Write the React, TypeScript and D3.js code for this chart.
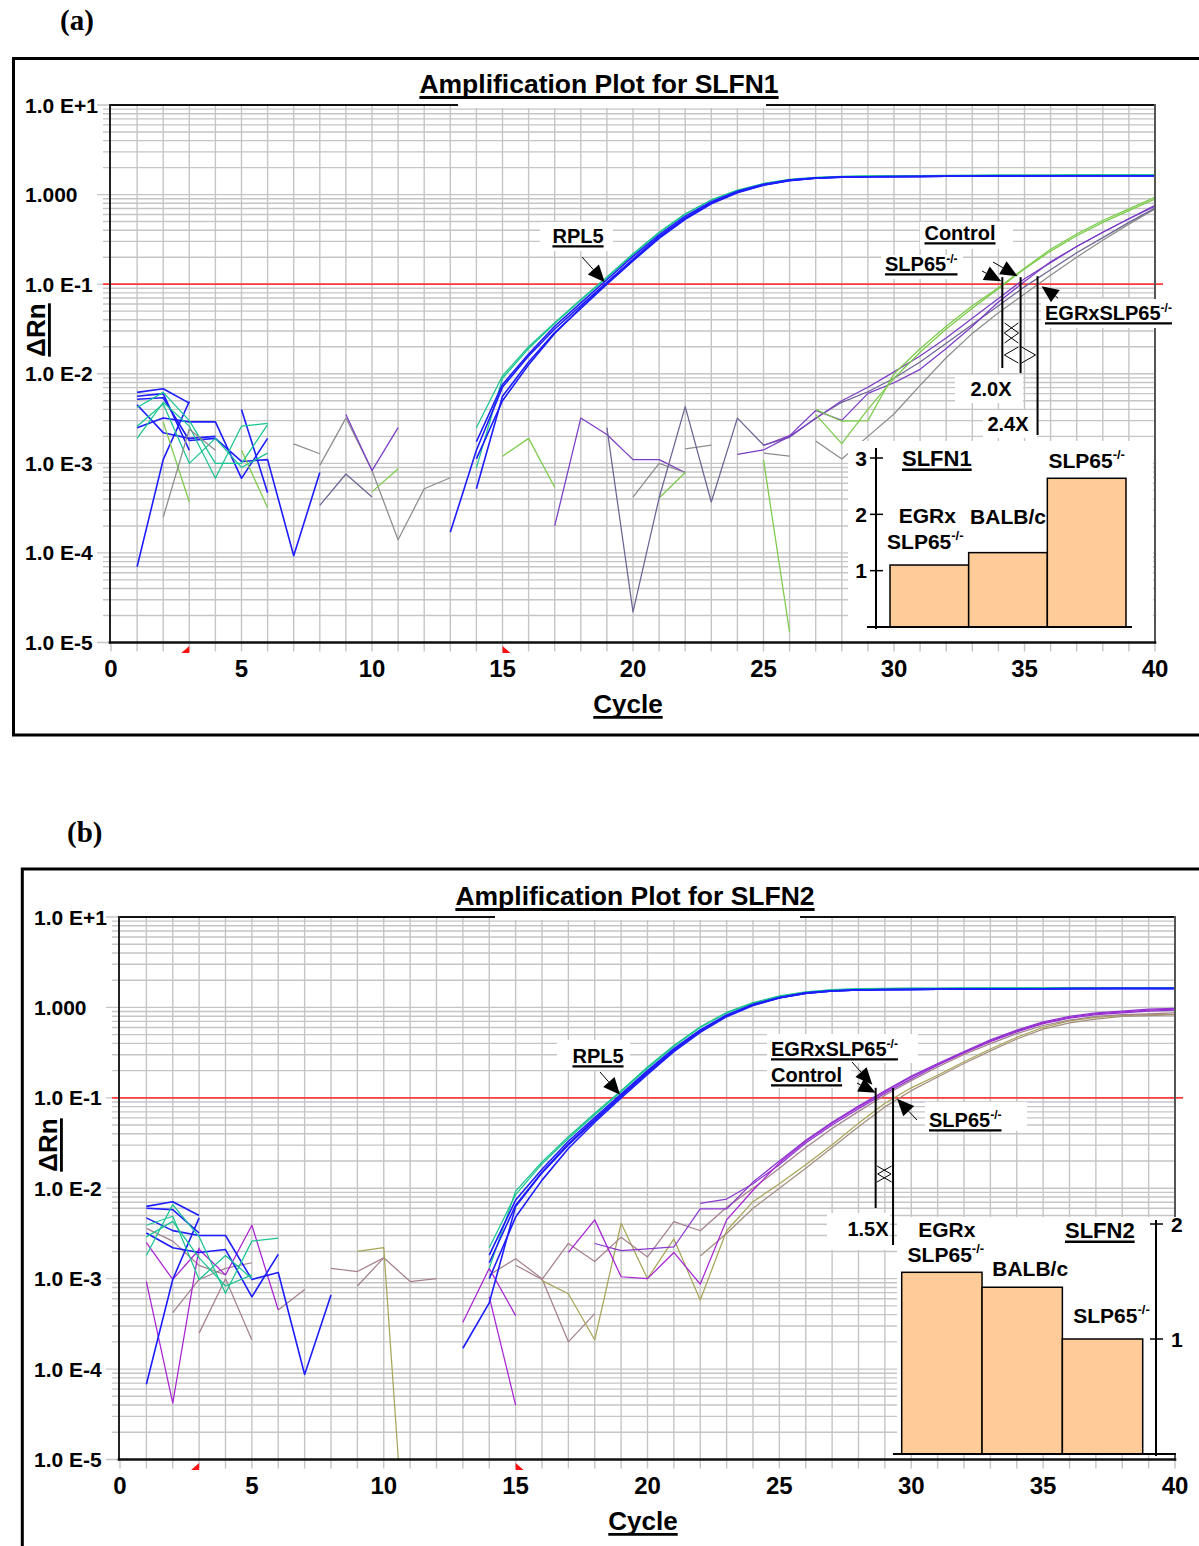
import React, { useEffect, useRef } from "react";
import * as d3 from "d3";

const W = 1199;
const H = 1546;
const SANS = "'Liberation Sans', Arial, Helvetica, sans-serif";
const SERIF = "'Liberation Serif', 'Times New Roman', Times, serif";

// ---------- axes ----------
const cycleTicks = [0, 5, 10, 15, 20, 25, 30, 35, 40];
const rnTicks = [10, 1, 0.1, 0.01, 0.001, 0.0001, 0.00001];
const rnTickLabels = ["1.0 E+1", "1.000", "1.0 E-1", "1.0 E-2", "1.0 E-3", "1.0 E-4", "1.0 E-5"];
const threshold = 0.1;
const baselineStart = 3;
const baselineEnd = 15;

// ---------- SLFN1 plate (cycle-indexed ΔRn; each array starts at the given cycle) ----------
// RPL5 reference wells
const rpl5A1 = [1.7e-4, 1.4e-3, 7.1e-3, 0.0158, 0.0316, 0.0575, 0.105, 0.191, 0.339, 0.55, 0.813, 1.07, 1.29, 1.45, 1.53, 1.57, 1.58, 1.59, 1.59, 1.6, 1.6, 1.61, 1.61, 1.62, 1.62, 1.62, 1.62, 1.62];
const rpl5A2 = [5.2e-4, 5.6e-3, 0.0135, 0.0288, 0.0537, 0.1, 0.182, 0.324, 0.53, 0.79, 1.05, 1.27, 1.43, 1.52, 1.56, 1.58, 1.58, 1.59, 1.6, 1.6, 1.61, 1.61, 1.62, 1.62, 1.62, 1.62, 1.62];
const rpl5A3 = [1.74e-3, 7.6e-3, 0.0166, 0.0339, 0.0617, 0.112, 0.204, 0.355, 0.575, 0.832, 1.09, 1.3, 1.45, 1.53, 1.57, 1.58, 1.59, 1.59, 1.6, 1.6, 1.61, 1.61, 1.62, 1.62, 1.62, 1.62, 1.62];
const rpl5A4 = [1.12e-3, 5.0e-3, 0.0126, 0.0282, 0.0545, 0.102, 0.186, 0.331, 0.54, 0.8, 1.06, 1.28, 1.44, 1.52, 1.56, 1.58, 1.58, 1.59, 1.6, 1.6, 1.61, 1.61, 1.61, 1.62, 1.62, 1.62, 1.62];
const rpl5A5 = [8.9e-4, 8.9e-3, 0.0191, 0.0363, 0.0661, 0.118, 0.214, 0.372, 0.603, 0.871, 1.12, 1.33, 1.48, 1.56, 1.6, 1.62, 1.62, 1.63, 1.64, 1.64, 1.65, 1.65, 1.65, 1.66, 1.66, 1.66, 1.66];
const rpl5A6 = [2.5e-3, 9.5e-3, 0.02, 0.0372, 0.0676, 0.12, 0.219, 0.38, 0.61, 0.87, 1.11, 1.32, 1.47, 1.55, 1.59, 1.61, 1.62, 1.62, 1.63, 1.64, 1.65, 1.65, 1.65, 1.66, 1.66, 1.66, 1.66];
// SLFN1 target wells
const slfn1Slp65_1 = [4.0e-3, 2.95e-3, 3.0e-3, 0.01, 0.019, 0.0339, 0.0575, 0.0912, 0.151, 0.245, 0.363, 0.513, 0.692, 0.933];
const slfn1Slp65_2 = [3.5e-3, 1.66e-3, 4.0e-3, 8.9e-3, 0.0174, 0.0316, 0.0537, 0.0891, 0.148, 0.234, 0.347, 0.49, 0.661, 0.891];
const slfn1Ctrl_1 = [1.58e-3, 2.04e-3, 3.89e-3, 3.02e-3, 6.03e-3, 7.94e-3, 0.0112, 0.0191, 0.0339, 0.0631, 0.107, 0.178, 0.263, 0.38, 0.537, 0.741];
const slfn1Ctrl_2 = [1.26e-3, 1.41e-3, 2.0e-3, 3.16e-3, 5.0e-3, 7.08e-3, 0.0105, 0.0158, 0.0251, 0.0417, 0.0692, 0.115, 0.174, 0.263, 0.38, 0.537, 0.759];
const slfn1Egr_1 = [1.78e-3, 1.12e-3, 2.0e-3, 3.55e-3, 7.41e-3, 0.0151, 0.0282, 0.0479, 0.0776, 0.126, 0.2, 0.309, 0.468, 0.692];
const slfn1Egr_2 = [2.5e-3, 2.2e-5, 4.1e-4, 4.3e-3, 3.7e-4, 3.2e-3, 1.6e-3, 1.95e-3, 3.2e-3, 4.8e-3, 6.3e-3, 8.9e-3, 0.0135, 0.0219, 0.0355, 0.0575, 0.0933, 0.145, 0.224, 0.331, 0.49, 0.708];
// SLFN1 background (pre-amplification) segments
const bgA1 = [6.2e-3, 6.8e-3, 4.7e-3];
const bgA2 = [5.6e-3, 6.0e-3, 1.4e-3];
const bgA3 = [5.2e-3, 5.4e-3, 1.8e-3, 1.9e-3, 1.05e-3, 1.1e-3, 9.3e-5, 7.9e-4];
const bgA4 = [2.5e-3, 3.2e-3, 2.9e-3, 2.9e-3, 6.8e-4, 1.9e-3];
const bgA5 = [7.0e-5, 1.1e-3, 4.9e-3];
const bgA6 = [4.0e-3, 4.7e-4];
const bgA7 = [4.5e-3, 2.2e-3, 1.9e-3, 2.0e-3];
const bgA8 = [4.2e-3, 6.2e-3, 3.0e-3, 1.0e-3, 1.0e-3, 2.7e-3];
const bgA9 = [2.6e-3, 4.6e-3, 1.0e-3, 1.9e-3, 9.0e-4, 1.3e-3];
const bgA10 = [1.9e-3, 4.8e-3, 2.6e-3, 6.8e-4, 2.6e-3, 2.8e-3];
const bgA11 = [2.9e-3, 3.7e-4];
const bgA12 = [1.4e-3, 3.2e-4];
const bgA13 = [2.5e-4, 2.4e-3, 1.4e-3];
const bgA14 = [1.65e-3, 1.28e-3];
const bgA15 = [9.5e-4, 3.2e-3, 8.3e-4, 1.4e-4, 5.2e-4, 6.9e-4];
const bgA16 = [3.4e-4, 7.6e-4, 4.2e-4];
const bgA17 = [3.5e-3, 8.3e-4, 2.5e-3];
const bgA18 = [4.8e-4, 8.7e-4];
const bgA19 = [1.2e-3, 1.9e-3, 5.4e-4];
const bgA20 = [2.0e-4, 3.2e-3, 2.1e-3, 1.1e-3, 1.1e-3, 7.9e-4];
const bgA21 = [4.2e-4, 1.0e-3, 7.9e-4];
const bgA22 = [4.1e-4, 7.9e-4];
const bgA23 = [1.45e-3, 1.6e-3];
const bgA24 = [1.3e-3, 1.2e-3];
const bgA25 = [1.1e-3, 1.3e-5];

// ---------- SLFN2 plate ----------
const rpl5B1 = [1.7e-4, 5.4e-4, 6.3e-3, 0.0148, 0.0302, 0.0562, 0.105, 0.191, 0.335, 0.545, 0.805, 1.06, 1.28, 1.44, 1.52, 1.56, 1.57, 1.58, 1.59, 1.59, 1.6, 1.6, 1.61, 1.61, 1.61, 1.62, 1.62, 1.62];
const rpl5B2 = [1.82e-3, 7.4e-3, 0.0162, 0.0331, 0.0603, 0.11, 0.2, 0.35, 0.565, 0.825, 1.08, 1.29, 1.45, 1.53, 1.56, 1.58, 1.58, 1.59, 1.6, 1.6, 1.61, 1.61, 1.62, 1.62, 1.62, 1.62, 1.62];
const rpl5B3 = [1.0e-3, 4.8e-3, 0.0123, 0.0275, 0.0537, 0.0995, 0.182, 0.324, 0.53, 0.79, 1.05, 1.27, 1.43, 1.52, 1.56, 1.57, 1.58, 1.59, 1.6, 1.6, 1.61, 1.61, 1.61, 1.62, 1.62, 1.62, 1.62];
const rpl5B4 = [1.3e-3, 9.3e-3, 0.0195, 0.0372, 0.0676, 0.12, 0.219, 0.38, 0.612, 0.88, 1.13, 1.34, 1.49, 1.57, 1.61, 1.62, 1.63, 1.63, 1.64, 1.64, 1.65, 1.65, 1.66, 1.66, 1.66, 1.66, 1.66];
const rpl5B5 = [2.2e-3, 8.5e-3, 0.0186, 0.0355, 0.0651, 0.117, 0.212, 0.37, 0.6, 0.865, 1.11, 1.32, 1.47, 1.55, 1.59, 1.61, 1.62, 1.62, 1.63, 1.64, 1.65, 1.65, 1.65, 1.66, 1.66, 1.66, 1.66];
const rpl5B6 = [1.5e-3, 6.5e-3, 0.015, 0.031, 0.0575, 0.104, 0.19, 0.337, 0.548, 0.81, 1.07, 1.28, 1.44, 1.52, 1.56, 1.58, 1.58, 1.59, 1.6, 1.6, 1.61, 1.61, 1.62, 1.62, 1.62, 1.62, 1.62];
const slfn2Egr_1 = [1.95e-3, 4.47e-3, 1.05e-3, 1.0e-3, 1.95e-3, 8.7e-4, 4.47e-3, 9.5e-3, 0.0191, 0.0331, 0.0525, 0.0794, 0.117, 0.17, 0.234, 0.316, 0.427, 0.55, 0.676, 0.776, 0.851, 0.891, 0.933, 0.955];
const slfn2Egr_2 = [2.45e-3, 2.04e-3, 2.14e-3, 2.24e-3, 5.9e-3, 5.9e-3, 0.0117, 0.02, 0.0339, 0.0537, 0.0813, 0.12, 0.174, 0.24, 0.324, 0.437, 0.562, 0.692, 0.794, 0.871, 0.912, 0.955, 0.977];
const slfn2Ctrl_1 = [6.8e-3, 7.6e-3, 0.0112, 0.0182, 0.0316, 0.0501, 0.0759, 0.112, 0.162, 0.229, 0.316, 0.417, 0.537, 0.661, 0.759, 0.832, 0.871, 0.912, 0.933];
const slfn2Ctrl_2 = [1.41e-3, 9.8e-4, 2.45e-3, 1.55e-3, 2.88e-3, 1.74e-3, 4.27e-3, 3.39e-3, 6.17e-3, 0.01, 0.0166, 0.0282, 0.0457, 0.0708, 0.107, 0.155, 0.219, 0.302, 0.398, 0.513, 0.631, 0.724, 0.794, 0.832, 0.851, 0.871];
const slfn2Slp65_1 = [9.5e-4, 6.8e-4, 2.1e-4, 4.1e-3, 1.0e-3, 2.75e-3, 5.8e-4, 3.39e-3, 7.1e-3, 0.0112, 0.0182, 0.0302, 0.0525, 0.0871, 0.129, 0.178, 0.251, 0.347, 0.468, 0.603, 0.708, 0.776, 0.813, 0.832, 0.832];
const slfn2Slp65_2 = [1.78e-3, 3.16e-3, 6.0e-3, 0.01, 0.0166, 0.0282, 0.0479, 0.0794, 0.12, 0.17, 0.24, 0.331, 0.447, 0.575, 0.676, 0.741, 0.794, 0.813, 0.832];
const bgB1 = [6.3e-3, 7.1e-3, 5.0e-3];
const bgB2 = [6.0e-3, 5.8e-3, 3.2e-3];
const bgB3 = [4.7e-3, 3.4e-3, 3.0e-3, 3.0e-3, 9.8e-4, 1.17e-3, 8.7e-5, 6.6e-4];
const bgB4 = [6.8e-5, 9.8e-4, 4.7e-3];
const bgB5 = [3.2e-3, 2.2e-3, 1.95e-3, 2.1e-3, 6.3e-4, 1.86e-3];
const bgB6 = [1.8e-3, 6.6e-3, 2.9e-3, 6.9e-4, 2.6e-3, 2.8e-3];
const bgB7 = [3.9e-3, 4.9e-3, 9.8e-4, 1.8e-3, 1.0e-3];
const bgB8 = [2.9e-3, 4.3e-3, 1.7e-3, 8.3e-4, 1.1e-3];
const bgB9 = [9.3e-4, 4.2e-5, 2.2e-3];
const bgB10 = [2.5e-3, 9.8e-4, 2.1e-3, 1.1e-3, 3.9e-3, 4.5e-4];
const bgB11 = [3.6e-3, 2.6e-3, 1.4e-3, 1.1e-3];
const bgB12 = [4.2e-4, 9.8e-4, 1.3e-3, 1.5e-3];
const bgB13 = [2.5e-4, 1.0e-3, 2.1e-4];
const bgB14 = [4.5e-4, 7.6e-4];
const bgB15 = [2.0e-3, 2.2e-3, 1.3e-7];
const bgB16 = [1.3e-3, 1.2e-3, 1.7e-3, 9.3e-4, 1.0e-3];
const bgB17 = [8.3e-4, 1.7e-3];
const bgB18 = [3.3e-4, 1.3e-3, 3.9e-4];
const bgB19 = [6.3e-4, 4.0e-5];
const bgB20 = [1.1e-3, 1.66e-3, 1.0e-3, 2.0e-4, 4.1e-4];

// ---------- threshold cycles ----------
const ctRpl5A = 18.92;
const ctA = { slp65: 34.15, control: 34.85, egr: 35.5 };
const ctRpl5B = 18.96;
const ctB = { egr: 28.6, control: 28.65, slp65: 29.31 };

// ---------- relative expression insets ----------
const insetGroups = ["EGRxSLP65", "BALB/c", "SLP65"];
const slfn1Fold = [1.1, 1.32, 2.64];
const slfn2Fold = [1.58, 1.45, 1.0];
const slfn1FoldTicks = [1, 2, 3];
const slfn2FoldTicks = [1, 2];

// ---------- colours ----------
const COL = {
  blue: "#1d1dff",
  teal: "#19c491",
  green: "#7ccb4a",
  purple: "#7b3cc6",
  grey: "#8c8c8c",
  slate: "#6e6494",
  magenta: "#a822d4",
  violet: "#8c37cf",
  mauve: "#a6808e",
  olive: "#a7a558",
  taupe: "#a38e80",
};

const slfn1Traces = [
  { start: 1, values: bgA1, color: COL.blue },
  { start: 1, values: bgA2, color: COL.blue },
  { start: 1, values: bgA3, color: COL.blue },
  { start: 1, values: bgA4, color: COL.blue },
  { start: 1, values: bgA5, color: COL.blue },
  { start: 5, values: bgA6, color: COL.blue },
  { start: 1, values: bgA7, color: COL.blue },
  { start: 1, values: bgA8, color: COL.teal },
  { start: 1, values: bgA9, color: COL.teal },
  { start: 1, values: bgA10, color: COL.teal },
  { start: 2, values: bgA11, color: COL.green },
  { start: 5, values: bgA12, color: COL.green },
  { start: 2, values: bgA13, color: COL.grey },
  { start: 7, values: bgA14, color: COL.grey },
  { start: 8, values: bgA15, color: COL.grey },
  { start: 8, values: bgA16, color: COL.slate },
  { start: 9, values: bgA17, color: COL.purple },
  { start: 10, values: bgA18, color: COL.green },
  { start: 15, values: bgA19, color: COL.green },
  { start: 17, values: bgA20, color: COL.purple },
  { start: 20, values: bgA21, color: COL.grey },
  { start: 21, values: bgA22, color: COL.green },
  { start: 22, values: bgA23, color: COL.grey },
  { start: 25, values: bgA24, color: COL.grey },
  { start: 25, values: bgA25, color: COL.green },
  { start: 27, values: slfn1Egr_1, color: COL.grey },
  { start: 19, values: slfn1Egr_2, color: COL.slate },
  { start: 25, values: slfn1Ctrl_1, color: COL.purple },
  { start: 24, values: slfn1Ctrl_2, color: COL.purple },
  { start: 27, values: slfn1Slp65_1, color: COL.green },
  { start: 27, values: slfn1Slp65_2, color: COL.green },
  { start: 14, values: rpl5A5, color: COL.teal },
  { start: 14, values: rpl5A6, color: COL.teal },
  { start: 13, values: rpl5A1, color: COL.blue },
  { start: 14, values: rpl5A2, color: COL.blue },
  { start: 14, values: rpl5A3, color: COL.blue },
  { start: 14, values: rpl5A4, color: COL.blue },
];

const slfn2Traces = [
  { start: 1, values: bgB11, color: COL.mauve },
  { start: 2, values: bgB12, color: COL.mauve },
  { start: 3, values: bgB13, color: COL.mauve },
  { start: 6, values: bgB14, color: COL.mauve },
  { start: 8, values: bgB16, color: COL.mauve },
  { start: 9, values: bgB17, color: COL.mauve },
  { start: 9, values: bgB15, color: COL.olive },
  { start: 1, values: bgB9, color: COL.magenta },
  { start: 1, values: bgB10, color: COL.magenta },
  { start: 1, values: bgB1, color: COL.blue },
  { start: 1, values: bgB2, color: COL.blue },
  { start: 1, values: bgB3, color: COL.blue },
  { start: 1, values: bgB4, color: COL.blue },
  { start: 1, values: bgB5, color: COL.blue },
  { start: 1, values: bgB6, color: COL.teal },
  { start: 1, values: bgB7, color: COL.teal },
  { start: 1, values: bgB8, color: COL.teal },
  { start: 13, values: bgB18, color: COL.magenta },
  { start: 14, values: bgB19, color: COL.magenta },
  { start: 14, values: bgB20, color: COL.mauve },
  { start: 16, values: slfn2Slp65_1, color: COL.olive },
  { start: 22, values: slfn2Slp65_2, color: COL.taupe },
  { start: 15, values: slfn2Ctrl_2, color: COL.mauve },
  { start: 22, values: slfn2Ctrl_1, color: COL.violet },
  { start: 17, values: slfn2Egr_1, color: COL.magenta },
  { start: 18, values: slfn2Egr_2, color: COL.violet },
  { start: 14, values: rpl5B4, color: COL.teal },
  { start: 14, values: rpl5B5, color: COL.teal },
  { start: 13, values: rpl5B1, color: COL.blue },
  { start: 14, values: rpl5B2, color: COL.blue },
  { start: 14, values: rpl5B3, color: COL.blue },
  { start: 14, values: rpl5B6, color: COL.blue },
];

// ---------- layout ----------
const layoutA = {
  frame: [13.5, 58.5, 1300, 676.5],
  tag: { text: "(a)", x: 60, y: 30 },
  left: 111, right: 1155, top: 105, bottom: 642.5,
  tickLabelX: 25,
  title: { text: "Amplification Plot for SLFN1", x: 599, y: 93, gap: [458, 766] },
  cycleTitle: { x: 628, y: 713 },
  rnTitle: { x: 45, y: 330 },
  clipId: "clip-slfn1",
};
const layoutB = {
  frame: [22.3, 869, 1300, 800],
  tag: { text: "(b)", x: 67, y: 842 },
  left: 120, right: 1175, top: 917, bottom: 1459.5,
  tickLabelX: 34,
  title: { text: "Amplification Plot for SLFN2", x: 635, y: 905, gap: [495, 800] },
  cycleTitle: { x: 643, y: 1530 },
  rnTitle: { x: 57, y: 1145 },
  clipId: "clip-slfn2",
};

type G = d3.Selection<SVGGElement, unknown, null, undefined>;

function label(g: G, x: number, y: number, main: string, opts: any = {}) {
  const size = opts.size ?? 20;
  const t = g
    .append("text")
    .attr("x", x)
    .attr("y", y)
    .attr("font-family", opts.family ?? SANS)
    .attr("font-weight", "bold")
    .attr("font-size", size)
    .attr("text-anchor", opts.anchor ?? "start")
    .attr("fill", "#000");
  t.append("tspan").text(main);
  if (opts.sup) {
    t.append("tspan")
      .attr("font-size", Math.round(size * 0.62))
      .attr("dy", -size * 0.42)
      .text(opts.sup);
  }
  if (opts.underline) {
    const bb = (t.node() as SVGTextElement).getBBox();
    const uy = y + size * 0.17;
    g.append("line")
      .attr("x1", bb.x)
      .attr("x2", bb.x + bb.width)
      .attr("y1", uy)
      .attr("y2", uy)
      .attr("stroke", "#000")
      .attr("stroke-width", Math.max(2, size * 0.11));
  }
  return t;
}

function plate(g: G, x: number, y: number, w: number, h: number) {
  g.append("rect").attr("x", x).attr("y", y).attr("width", w).attr("height", h).attr("fill", "#fff");
}

function arrow(g: G, x1: number, y1: number, x2: number, y2: number, head = 17, half = 7.5) {
  const dx = x2 - x1;
  const dy = y2 - y1;
  const len = Math.hypot(dx, dy);
  const ux = dx / len;
  const uy = dy / len;
  const bx = x2 - ux * head;
  const by = y2 - uy * head;
  g.append("line").attr("x1", x1).attr("y1", y1).attr("x2", bx).attr("y2", by).attr("stroke", "#000").attr("stroke-width", 1);
  g.append("path")
    .attr("d", `M${x2},${y2}L${bx - uy * half},${by + ux * half}L${bx + uy * half},${by - ux * half}Z`)
    .attr("fill", "#000");
}

function doubleArrow(g: G, xa: number, xb: number, yy: number, half = 8, len = 14) {
  const d = `M${xa + len},${yy - half}L${xa},${yy}L${xa + len},${yy + half}M${xb - len},${yy - half}L${xb},${yy}L${xb - len},${yy + half}`;
  g.append("path").attr("d", d).attr("fill", "none").attr("stroke", "#000").attr("stroke-width", 1);
}

function vline(g: G, x: number, y1: number, y2: number) {
  g.append("line").attr("x1", x).attr("x2", x).attr("y1", y1).attr("y2", y2).attr("stroke", "#000").attr("stroke-width", 2);
}

function drawPanel(svg: any, L: any, traces: any[]) {
  const g: G = svg.append("g");
  const x = d3.scaleLinear().domain([0, 40]).range([L.left, L.right]);
  const y = d3.scaleLog().domain([1e-5, 10]).range([L.bottom, L.top]);

  // outer frame and panel tag
  g.append("rect")
    .attr("x", L.frame[0]).attr("y", L.frame[1]).attr("width", L.frame[2]).attr("height", L.frame[3])
    .attr("fill", "none").attr("stroke", "#000").attr("stroke-width", 3);
  label(g, L.tag.x, L.tag.y, L.tag.text, { size: 29, family: SERIF });

  // grid
  const grid = g.append("g").attr("stroke", "#c5c5c5").attr("stroke-width", 1.4);
  x.ticks(40).forEach((c) => {
    if (c > 0 && c < 40) grid.append("line").attr("x1", x(c)).attr("x2", x(c)).attr("y1", L.top).attr("y2", L.bottom);
    grid.append("line").attr("x1", x(c)).attr("x2", x(c)).attr("y1", L.bottom).attr("y2", L.bottom + 9);
  });
  y.ticks().forEach((v) => {
    const major = Math.abs(Math.log10(v) - Math.round(Math.log10(v))) < 1e-6;
    grid.append("line")
      .attr("x1", L.left - (major ? 14 : 8)).attr("x2", L.right)
      .attr("y1", y(v)).attr("y2", y(v));
  });

  // threshold
  g.append("line")
    .attr("x1", L.left - 8).attr("x2", L.right + 8)
    .attr("y1", y(threshold)).attr("y2", y(threshold))
    .attr("stroke", "#ff3b3b").attr("stroke-width", 1.6);

  // amplification traces
  g.append("clipPath").attr("id", L.clipId)
    .append("rect").attr("x", L.left).attr("y", L.top).attr("width", L.right - L.left).attr("height", L.bottom - L.top);
  const tg = g.append("g").attr("clip-path", `url(#${L.clipId})`).attr("fill", "none");
  traces.forEach((t) => {
    const line = d3
      .line<number>()
      .defined((v) => v > 0)
      .x((_, i) => x(t.start + i))
      .y((v) => y(v));
    tg.append("path")
      .attr("d", line(t.values))
      .attr("stroke", t.color)
      .attr("stroke-width", t.color === COL.blue ? 1.6 : 1.25)
      .attr("stroke-linejoin", "round");
  });

  // plot box
  const ax = g.append("g").attr("stroke-linecap", "square");
  ax.append("line").attr("x1", L.left).attr("x2", L.right).attr("y1", L.top).attr("y2", L.top).attr("stroke", "#111").attr("stroke-width", 2);
  ax.append("line").attr("x1", L.right).attr("x2", L.right).attr("y1", L.top).attr("y2", L.bottom).attr("stroke", "#555").attr("stroke-width", 2);
  ax.append("line").attr("x1", L.left - 1).attr("x2", L.left - 1).attr("y1", L.top).attr("y2", L.bottom).attr("stroke", "#222").attr("stroke-width", 2);
  ax.append("line").attr("x1", L.left - 1).attr("x2", L.right).attr("y1", L.bottom).attr("y2", L.bottom).attr("stroke", "#111").attr("stroke-width", 2.6);

  // baseline window flags
  const fb = L.bottom;
  g.append("path")
    .attr("d", `M${x(baselineStart)},${fb + 3.5}L${x(baselineStart)},${fb + 10.5}L${x(baselineStart) - 8},${fb + 10.5}Z`)
    .attr("fill", "#ff1010");
  g.append("path")
    .attr("d", `M${x(baselineEnd)},${fb + 3.5}L${x(baselineEnd)},${fb + 10.5}L${x(baselineEnd) + 8},${fb + 10.5}Z`)
    .attr("fill", "#ff1010");

  // tick labels
  rnTicks.forEach((v, i) => label(g, L.tickLabelX, y(v) + 7.5, rnTickLabels[i], { size: 21 }));
  cycleTicks.forEach((c) => label(g, x(c), L.bottom + 34, String(c), { size: 24, anchor: "middle" }));

  // titles
  plate(g, L.title.gap[0], L.top - 4, L.title.gap[1] - L.title.gap[0], 7);
  label(g, L.title.x, L.title.y, L.title.text, { size: 26.5, anchor: "middle", underline: true });
  label(g, L.cycleTitle.x, L.cycleTitle.y, "Cycle", { size: 26, anchor: "middle", underline: true });
  const rg: G = g.append("g").attr("transform", `translate(${L.rnTitle.x},${L.rnTitle.y}) rotate(-90)`);
  label(rg, 0, 0, "ΔRn", { size: 26, anchor: "middle", underline: true });

  return { g, x, y };
}

function drawInset(g: G, I: any, values: number[], ticks: number[]) {
  plate(g, I.box[0], I.box[1], I.box[2], I.box[3]);
  const yv = d3.scaleLinear().domain(I.domain).range(I.range);
  const xb = d3.scaleBand<string>().domain(insetGroups).range(I.band).padding(0);
  g.append("g")
    .selectAll("rect")
    .data(values)
    .join("rect")
    .attr("x", (_, i) => xb(insetGroups[i]) as number)
    .attr("y", (d) => yv(d))
    .attr("width", xb.bandwidth())
    .attr("height", (d) => yv(0) - yv(d))
    .attr("fill", "#ffcc99")
    .attr("stroke", "#000")
    .attr("stroke-width", 1.5);
  // axis
  g.append("line").attr("x1", I.axisX).attr("x2", I.axisX).attr("y1", I.axisTop).attr("y2", yv(0) + 2).attr("stroke", "#000").attr("stroke-width", 2);
  g.append("line").attr("x1", I.baseline[0]).attr("x2", I.baseline[1]).attr("y1", yv(0)).attr("y2", yv(0)).attr("stroke", "#000").attr("stroke-width", 2.2);
  ticks.forEach((t) => {
    g.append("line").attr("x1", I.axisX - 6).attr("x2", I.axisX + 7).attr("y1", yv(t)).attr("y2", yv(t)).attr("stroke", "#000").attr("stroke-width", 1.5);
    label(g, I.tickLabelX, yv(t) + 7.5, String(t), { size: 21, anchor: I.tickAnchor });
  });
  label(g, I.title.x, I.title.y, I.title.text, { size: 22, underline: true });
  I.labels.forEach((lb: any) => {
    const i = lb.bar;
    const cx = (xb(insetGroups[i]) as number) + xb.bandwidth() / 2 + lb.dx;
    label(g, cx, yv(values[i]) - lb.above, lb.text, { size: 21, anchor: "middle", sup: lb.sup });
  });
}

function annotateSlfn1(g: G, x: any, y: any) {
  const yt = y(threshold);
  plate(g, 540, 222, 73, 29);
  plate(g, 920, 222, 93, 27);
  plate(g, 881, 255, 82, 24);
  plate(g, 1041, 299, 136, 29);
  plate(g, 955, 375, 68, 28);
  plate(g, 983, 410, 54, 28);

  vline(g, x(ctA.slp65), yt - 7, 368);
  vline(g, x(ctA.control), yt - 7, 373);
  vline(g, x(ctA.egr), yt - 8, 435);
  doubleArrow(g, x(ctA.slp65) + 2, x(ctA.control) - 2, 333, 10);
  doubleArrow(g, x(ctA.slp65) + 2, x(ctA.egr) - 2, 355, 8);

  label(g, 578, 243, "RPL5", { anchor: "middle", underline: true });
  arrow(g, 582, 257, x(ctRpl5A), yt - 2);
  label(g, 960, 240, "Control", { anchor: "middle", underline: true });
  arrow(g, 993, 262, x(ctA.control) - 3, yt - 8);
  label(g, 885, 271, "SLP65", { sup: "-/-", underline: true });
  arrow(g, 982, 271, x(ctA.slp65) - 1, yt - 3);
  label(g, 1045, 320, "EGRxSLP65", { sup: "-/-", underline: true });
  arrow(g, 1058, 298, x(ctA.egr) + 4, yt + 2);
  label(g, 991, 396, "2.0X", { anchor: "middle" });
  label(g, 1008, 431, "2.4X", { anchor: "middle" });

  drawInset(
    g,
    {
      box: [848, 441, 305, 200],
      domain: [0, 3],
      range: [627, 458],
      band: [890, 1126],
      axisX: 876,
      axisTop: 448,
      baseline: [867, 1132],
      tickLabelX: 867,
      tickAnchor: "end",
      title: { text: "SLFN1", x: 902, y: 466 },
      labels: [
        { bar: 0, text: "EGRx", above: 42, dx: -2 },
        { bar: 0, text: "SLP65", sup: "-/-", above: 16, dx: -4 },
        { bar: 1, text: "BALB/c", above: 29, dx: 0 },
        { bar: 2, text: "SLP65", sup: "-/-", above: 10, dx: 0 },
      ],
    },
    slfn1Fold,
    slfn1FoldTicks
  );
}

function annotateSlfn2(g: G, x: any, y: any) {
  const yt = y(threshold);
  plate(g, 557, 1040, 73, 30);
  plate(g, 767, 1034, 151, 29);
  plate(g, 767, 1063, 84, 25);
  plate(g, 925, 1102, 102, 29);
  plate(g, 827, 1213, 63, 37);

  vline(g, x(ctB.control), yt - 10, 1208);
  vline(g, x(ctB.slp65), yt - 10, 1245);
  doubleArrow(g, x(ctB.control) + 2, x(ctB.slp65) - 2, 1174, 8);

  label(g, 598, 1063, "RPL5", { anchor: "middle", underline: true });
  arrow(g, 600, 1072, x(ctRpl5B), yt - 3);
  label(g, 771, 1056, "EGRxSLP65", { sup: "-/-", underline: true });
  arrow(g, 852, 1062, x(ctB.egr) - 2, yt - 13);
  label(g, 771, 1082, "Control", { underline: true });
  arrow(g, 857, 1083, x(ctB.control), yt - 5);
  label(g, 929, 1127, "SLP65", { sup: "-/-", underline: true });
  arrow(g, 917, 1120, x(ctB.slp65) + 4, yt + 1);
  label(g, 868, 1236, "1.5X", { anchor: "middle" });

  drawInset(
    g,
    {
      box: [897, 1217, 302, 238],
      domain: [0, 2],
      range: [1454, 1224],
      band: [901.7, 1142.7],
      axisX: 1156,
      axisTop: 1220,
      baseline: [893, 1176],
      tickLabelX: 1171,
      tickAnchor: "start",
      title: { text: "SLFN2", x: 1065, y: 1238 },
      labels: [
        { bar: 0, text: "EGRx", above: 35, dx: 5 },
        { bar: 0, text: "SLP65", sup: "-/-", above: 10, dx: 4 },
        { bar: 1, text: "BALB/c", above: 11, dx: 8 },
        { bar: 2, text: "SLP65", sup: "-/-", above: 16, dx: 9 },
      ],
    },
    slfn2Fold,
    slfn2FoldTicks
  );
}

export default function App() {
  const ref = useRef<SVGSVGElement | null>(null);
  useEffect(() => {
    const svg = d3.select(ref.current);
    svg.selectAll("*").remove();
    svg.append("rect").attr("width", W).attr("height", H).attr("fill", "#fff");
    const a = drawPanel(svg, layoutA, slfn1Traces);
    annotateSlfn1(a.g, a.x, a.y);
    const b = drawPanel(svg, layoutB, slfn2Traces);
    annotateSlfn2(b.g, b.x, b.y);
  }, []);
  return (
    <svg
      ref={ref}
      width={W}
      height={H}
      viewBox={`0 0 ${W} ${H}`}
      style={{ position: "absolute", left: 0, top: 0, display: "block" }}
    />
  );
}
